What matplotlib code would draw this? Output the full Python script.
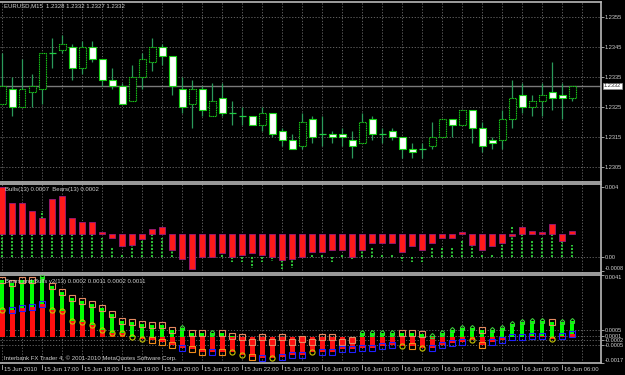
import numpy as np
import matplotlib.pyplot as plt
from matplotlib.patches import Rectangle

# ---- price data (EURUSD M15), one row per bar ----
opens = [1.2326, 1.2331, 1.2325, 1.2330, 1.2331, 1.2343, 1.2344, 1.2345, 1.2338, 1.2345,
         1.2341, 1.2334, 1.2332, 1.2327, 1.2335, 1.2340, 1.2345, 1.2342, 1.2331, 1.2326,
         1.2331, 1.2322, 1.2328, 1.2323, 1.2322, 1.2322, 1.2319, 1.2323, 1.2317, 1.2314,
         1.2312, 1.2321, 1.2316, 1.2316, 1.2316, 1.2314, 1.2313, 1.2321, 1.2316, 1.2317,
         1.2315, 1.2311, 1.2311, 1.2312, 1.2315, 1.2321, 1.2319, 1.2324, 1.2318, 1.2314,
         1.2314, 1.2321, 1.2329, 1.2325, 1.2327, 1.2330, 1.2329, 1.2328]
highs = [1.2343, 1.2335, 1.2341, 1.2336, 1.2343, 1.2348, 1.2349, 1.2346, 1.2347, 1.2347,
         1.2341, 1.2338, 1.2333, 1.2339, 1.2343, 1.2348, 1.2346, 1.2342, 1.2335, 1.2334,
         1.2332, 1.2333, 1.2333, 1.2327, 1.2325, 1.2322, 1.2325, 1.2323, 1.2318, 1.2316,
         1.2323, 1.2322, 1.2322, 1.2317, 1.2318, 1.2317, 1.2323, 1.2322, 1.2318, 1.2318,
         1.2315, 1.2313, 1.2313, 1.2320, 1.2321, 1.2321, 1.2324, 1.2324, 1.2320, 1.2315,
         1.2324, 1.2334, 1.2333, 1.2329, 1.2333, 1.2340, 1.2333, 1.2332]
lows = [1.2326, 1.2322, 1.2325, 1.2325, 1.2326, 1.2338, 1.2343, 1.2334, 1.2336, 1.2340,
        1.2332, 1.2331, 1.2326, 1.2327, 1.2331, 1.2337, 1.2339, 1.2329, 1.2323, 1.2318,
        1.2322, 1.2322, 1.2322, 1.2319, 1.2319, 1.2319, 1.2317, 1.2315, 1.2312, 1.2311,
        1.2311, 1.2313, 1.2312, 1.2313, 1.2312, 1.2308, 1.2313, 1.2314, 1.2313, 1.2314,
        1.2308, 1.2308, 1.2308, 1.2311, 1.2315, 1.2315, 1.2319, 1.2313, 1.2310, 1.2311,
        1.2311, 1.2318, 1.2323, 1.2322, 1.2322, 1.2324, 1.2321, 1.2327]
closes = [1.2332, 1.2325, 1.2331, 1.2332, 1.2343, 1.2343, 1.2346, 1.2338, 1.2345, 1.2341,
          1.2334, 1.2332, 1.2326, 1.2335, 1.2341, 1.2345, 1.2342, 1.2332, 1.2325, 1.2331,
          1.2324, 1.2327, 1.2323, 1.2323, 1.2322, 1.2319, 1.2323, 1.2316, 1.2314, 1.2311,
          1.2320, 1.2315, 1.2316, 1.2315, 1.2315, 1.2312, 1.2320, 1.2316, 1.2316, 1.2315,
          1.2311, 1.2310, 1.2311, 1.2315, 1.2321, 1.2319, 1.2324, 1.2318, 1.2312, 1.2313,
          1.2321, 1.2328, 1.2325, 1.2327, 1.2329, 1.2328, 1.2328, 1.2332]

# ---- Bulls(13) / Bears(13) window ----
bulls13 = [0.0020, 0.0015, 0.0015, 0.0016, 0.0026, 0.0018, 0.0019, 0.0014, 0.0014, 0.0014,
           0.0011, 0.0006, 0.0002, 0.0007, 0.0010, 0.0013, 0.0011, 0.0005, 0.0000, 0.0000,
           0.0000, 0.0002, 0.0002, -0.0003, -0.0003, -0.0006, -0.0003, -0.0002, -0.0007, -0.0006,
           0.0001, 0.0002, 0.0002, -0.0003, 0.0002, -0.0001, 0.0005, 0.0005, 0.0001, 0.0002,
           -0.0002, -0.0003, -0.0003, 0.0006, 0.0006, 0.0005, 0.0009, 0.0007, 0.0001, 0.0001,
           0.0007, 0.0017, 0.0014, 0.0009, 0.0011, 0.0013, 0.0009, 0.0007]
bears13 = [0.0027, 0.0018, 0.0018, 0.0013, 0.0009, 0.0020, 0.0022, 0.0009, 0.0007, 0.0007,
           0.0001, -0.0002, -0.0007, -0.0006, -0.0003, 0.0003, 0.0004, -0.0009, -0.0014, -0.0020,
           -0.0013, -0.0013, -0.0011, -0.0013, -0.0012, -0.0011, -0.0012, -0.0013, -0.0015, -0.0014,
           -0.0013, -0.0010, -0.0010, -0.0009, -0.0009, -0.0013, -0.0009, -0.0005, -0.0005, -0.0005,
           -0.0010, -0.0007, -0.0009, -0.0005, -0.0002, -0.0002, 0.0001, -0.0006, -0.0009, -0.0007,
           -0.0005, -0.0001, 0.0004, 0.0002, 0.0001, 0.0006, -0.0004, 0.0002]
bears_base = 0.00131   # the Bears histogram is drawn from its own base in this window

# ---- Bears and Bulls v2(13) window ----
v2_bulls = [0.0038, 0.0036, 0.0038, 0.0038, 0.0040, 0.0034, 0.0030, 0.0026, 0.0024, 0.0022,
            0.0019, 0.0015, 0.0011, 0.0010, 0.0009, 0.0008, 0.0008, 0.0005, 0.0006, 0.0003,
            0.0003, 0.0003, 0.0003, 0.0001, 0.0000, -0.0003, 0.0000, -0.0003, 0.0000, -0.0003,
            -0.0001, -0.0003, 0.0000, 0.0000, -0.0003, -0.0002, 0.0003, 0.0003, 0.0003, 0.0003,
            0.0003, 0.0003, 0.0002, 0.0001, 0.0003, 0.0005, 0.0006, 0.0006, 0.0005, 0.0005,
            0.0006, 0.0009, 0.0010, 0.0011, 0.0011, 0.0010, 0.0010, 0.0011]
v2_bears = [0.0018, 0.0018, 0.0019, 0.0020, 0.0022, 0.0018, 0.0017, 0.0011, 0.0010, 0.0008,
            0.0005, 0.0003, 0.0003, 0.0000, -0.0001, -0.0002, -0.0003, -0.0005, -0.0007, -0.0008,
            -0.0010, -0.0010, -0.0010, -0.0010, -0.0012, -0.0013, -0.0014, -0.0014, -0.0013, -0.0012,
            -0.0012, -0.0010, -0.0010, -0.0010, -0.0008, -0.0008, -0.0007, -0.0007, -0.0006, -0.0005,
            -0.0006, -0.0006, -0.0007, -0.0007, -0.0005, -0.0004, -0.0003, -0.0002, -0.0005, -0.0003,
            -0.0002, 0.0000, 0.0000, 0.0001, 0.0001, -0.0001, 0.0001, 0.0002]
# signal type at the upper end of each bar: d = sell mark, u = buy mark
v2_top_sig = list("ddddu" "ddddddddddddd" "udd" "u" "dddddddddddddd" "uuuu" "ddd"
                  "uuuuu" "d" "uuuuuu" "d" "uu")
# signal type at the lower end: y = weak, o = sell, b = buy
v2_bot_sig = list("y" "bbbb" "yyyyyyyyyy" "ooo" "b" "oo" "b" "o" "yy" "o" "b" "y" "bbb" "y"
                  "bbbbbbbb" "y" "o" "y" "bbbb" "y" "o" "bbbbbb" "y" "bb")
v2_levels = [0.0005, 0.0001, -0.0002, -0.0005]

time_labels = ["15 Jun 2010", "15 Jun 17:00", "15 Jun 18:00", "15 Jun 19:00", "15 Jun 20:00",
               "15 Jun 21:00", "15 Jun 22:00", "15 Jun 23:00", "16 Jun 00:00", "16 Jun 01:00",
               "16 Jun 02:00", "16 Jun 03:00", "16 Jun 04:00", "16 Jun 05:00", "16 Jun 06:00"]
time_label_bars = list(range(0, 58, 4))
price_ticks = [1.2355, 1.2345, 1.2335, 1.2325, 1.2315, 1.2305]
last_price = 1.2332

n = len(opens)
x = np.arange(n)

BG = "black"
TXT = "#d0d0d0"
GRID = "#6e6e6e"
FS = 4.3      # small MT4-like text
FS_R = 4.1    # right-hand scale labels
plt.rcParams["font.family"] = ["Liberation Sans", "DejaVu Sans"]

fig = plt.figure(figsize=(6.25, 3.75), dpi=100, facecolor=BG)


def px_axes(x0, y0, x1, y1):
    # pixel box -> figure fraction
    return fig.add_axes([x0 / 625, 1 - y1 / 375, (x1 - x0) / 625, (y1 - y0) / 375])


ax1 = px_axes(0, 2, 601, 182)
ax2 = px_axes(0, 184, 601, 273)
ax3 = px_axes(0, 275, 601, 363)

for ax in (ax1, ax2, ax3):
    ax.set_facecolor(BG)
    ax.set_xlim(-0.2, 59.9)
    ax.set_xticks([])
    for s in ("top", "bottom", "right"):
        ax.spines[s].set_color("#b8b8b8")
        ax.spines[s].set_linewidth(1.2)
    ax.spines["left"].set_visible(False)
    for k in range(0, 60, 2):
        ax.axvline(k, color=GRID, lw=0.6, ls=(0, (1.5, 2)), zorder=0)
    ax.yaxis.tick_right()
    ax.tick_params(axis="y", colors="#b8b8b8", labelcolor=TXT, labelsize=FS_R,
                   length=2, width=0.6, pad=0.8)

# ---- panel 1: candles ----
ax1.set_ylim(1.2300, 1.2360)
ax1.set_yticks(price_ticks)
ax1.set_yticklabels([f"{p:.4f}" for p in price_ticks])
for p in price_ticks:
    ax1.axhline(p, color=GRID, lw=0.6, ls=(0, (1.5, 2)), zorder=0)
ax1.axhline(last_price, color="#7a7a7a", lw=1.0, zorder=1)

for i in range(n):
    o, h, l, c = opens[i], highs[i], lows[i], closes[i]
    ax1.vlines(x[i], l, h, color="#2a9a5a", lw=0.9, zorder=2)
    if abs(c - o) < 1e-6:
        ax1.hlines(o, x[i] - 0.35, x[i] + 0.35, color="#22cc44", lw=0.9, zorder=3)
    else:
        bull = c > o
        ax1.add_patch(Rectangle((x[i] - 0.35, min(o, c)), 0.7, abs(c - o),
                                facecolor="black" if bull else "white",
                                edgecolor="#19d019", lw=0.8,
                                ls=(0, (1, 0.6)) if bull else "-", zorder=3))

ax1.text(1.004, last_price, f"{last_price:.4f}", transform=ax1.get_yaxis_transform(),
         ha="left", va="center", fontsize=FS_R, color="#303030",
         bbox=dict(boxstyle="square,pad=0.15", fc="white", ec="#909090", lw=0.5))
fig.text(4 / 625, 1 - 6 / 375, "EURUSD,M15  1.2328 1.2332 1.2327 1.2332",
         color=TXT, fontsize=FS, va="center", ha="left")

# ---- panel 2: Bulls / Bears ----
ax2.set_ylim(-0.000914, 0.004171)
ax2.set_yticks([0.004, 0.0, -0.0008])
ax2.set_yticklabels(["0.004", "0.00", "-0.0008"])
ax2.get_yticklabels()[-1].set_va("bottom")
ax2.axhline(0, color=GRID, lw=0.6, ls=(0, (1.5, 2)), zorder=0)
ax2.vlines(x, 0, bulls13, color="#2fc83a", lw=1.4, ls=(0, (1, 0.8)), zorder=2)
ax2.bar(x, bears13, bottom=bears_base, width=0.55, color="#ff1a1a",
        edgecolor="#9a1a7a", lw=0.6, zorder=3)
fig.text(5 / 625, 1 - 189 / 375, "Bulls(13) 0.0007  Bears(13) 0.0002",
         color=TXT, fontsize=FS, va="center", ha="left")

# ---- panel 3: Bears and Bulls v2 ----
ax3.set_ylim(-0.0017, 0.0041)
v2_ticks = [0.0041] + v2_levels + [-0.0017]
ax3.set_yticks(v2_ticks)
ax3.set_yticklabels([f"{t:.4f}" for t in v2_ticks])
ax3.get_yticklabels()[0].set_va("top")
ax3.get_yticklabels()[-1].set_va("bottom")
for lv in v2_levels:
    ax3.axhline(lv, color=GRID, lw=0.6, ls=(0, (1.5, 2)), zorder=0)
ax3.bar(x, v2_bulls, width=0.35, color="#00ff00", lw=0, zorder=2)
ax3.bar(x, v2_bears, width=0.5, color="#ff1010", lw=0, zorder=3)

top_style = {"d": dict(marker="s", mec="#e48a62"), "u": dict(marker="p", mec="#3ccc3c")}
bot_style = {"y": dict(marker="o", mec="#c4c400"), "o": dict(marker="s", mec="#f08c1a"),
             "b": dict(marker="s", mec="#2020ff")}
for i in range(n):
    ax3.plot(x[i], v2_bulls[i], ls="none", mfc="none", ms=3.7, mew=0.8, zorder=4,
             **top_style[v2_top_sig[i]])
    ax3.plot(x[i], v2_bears[i], ls="none", mfc="none", ms=3.7, mew=0.8, zorder=4,
             **bot_style[v2_bot_sig[i]])

fig.text(5 / 625, 1 - 281 / 375, "Bears and Bulls v2(13) 0.0002 0.0011 0.0002 0.0011",
         color=TXT, fontsize=FS, va="center", ha="left")
fig.text(4 / 625, 1 - 358 / 375, "Interbank FX Trader 4, \u00a9 2001-2010 MetaQuotes Software Corp.",
         color=TXT, fontsize=FS, va="center", ha="left")

# time axis
for b, lab in zip(time_label_bars, time_labels):
    ax3.plot([b, b], [-0.02, -0.07], color="#b8b8b8", lw=0.6, clip_on=False,
             transform=ax3.get_xaxis_transform())
    ax3.annotate(lab, xy=(b, 0), xycoords=("data", "axes fraction"), xytext=(1.2, -2.6),
                 textcoords="offset points", ha="left", va="top", fontsize=FS, color=TXT)

fig.savefig("out.png", dpi=100, facecolor=BG)
